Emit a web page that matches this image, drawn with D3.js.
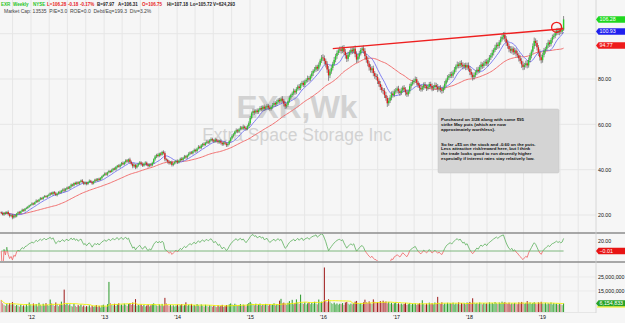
<!DOCTYPE html>
<html>
<head>
<meta charset="utf-8">
<script src="https://cdn.jsdelivr.net/npm/d3@7"></script>
<style>
  body { margin: 0; background: #f6f6f6; }
  svg { display: block; font-family: "Liberation Sans", Arial, sans-serif; }
</style>
</head>
<body>
<script>
// weekly bars, first one is the week of 5 Aug 2011
const firstWeek = new Date(2011, 7, 5);

const closes = [
  20.9,20.2,21.0,20.6,21.3,20.4,19.6,19.9,18.9,19.8,19.4,20.6,21.2,20.8,21.6,22.3,21.9,22.8,23.1,23.6,24.2,
  24.5,25.1,24.8,25.6,26.3,26.0,26.8,27.4,27.1,27.9,28.3,28.0,28.6,
  28.9,29.6,29.2,30.1,29.5,28.8,29.4,30.2,29.9,30.7,31.2,30.8,31.5,
  32.1,31.7,32.6,33.4,33.0,34.1,33.6,34.4,33.9,34.6,35.2,34.5,33.8,
  34.3,33.7,34.5,35.1,34.6,33.9,34.8,35.6,35.2,36.0,35.5,36.3,37.1,
  37.6,38.3,37.9,38.8,39.4,39.0,39.8,40.5,40.1,41.2,41.8,41.3,42.2,
  42.9,42.4,43.3,44.1,43.6,44.5,43.4,42.6,41.5,42.1,41.0,41.9,42.6,
  43.2,42.5,41.8,42.7,43.1,42.2,41.6,42.3,41.9,43.0,44.6,45.8,46.5,
  46.0,47.1,46.6,47.8,47.3,44.6,44.3,43.5,42.8,43.4,42.1,42.7,43.3,
  43.9,43.2,44.0,44.8,44.3,45.2,45.9,45.4,46.3,47.0,47.6,47.2,48.1,
  48.7,48.2,49.3,50.1,49.6,50.7,51.4,50.9,51.8,52.4,52.0,52.9,53.5,
  53.0,52.4,53.3,52.8,52.1,52.7,51.9,51.2,52.0,51.5,50.8,51.4,52.6,
  53.8,54.9,55.6,56.8,57.4,56.9,57.8,58.6,58.1,59.0,58.4,57.9,59.2,
  60.5,62.8,64.9,65.8,65.2,66.1,65.4,66.3,67.2,66.6,67.8,66.9,67.5,
  68.2,67.4,66.8,67.7,68.5,69.4,68.8,69.9,70.8,70.2,71.3,70.4,69.1,
  67.9,68.6,70.2,71.8,72.9,73.6,74.8,74.1,75.5,76.7,76.0,77.6,78.3,
  77.4,78.9,79.6,80.4,79.8,81.2,82.5,83.6,84.1,85.4,84.6,86.3,88.1,89.5,
  89.2,88.0,86.5,84.2,81.6,83.3,84.9,86.7,88.4,90.1,91.5,92.6,93.1,
  92.4,93.6,92.0,90.5,88.9,90.7,91.8,92.9,92.2,93.4,91.0,88.6,89.9,
  91.3,92.8,93.5,92.4,90.1,88.5,86.8,85.2,83.9,84.7,82.6,81.3,80.9,
  79.2,77.8,76.4,75.1,74.8,72.9,71.6,69.3,70.4,71.8,73.6,72.9,74.5,
  74.9,75.8,74.6,73.8,74.9,76.2,75.4,74.1,73.2,74.5,76.8,77.9,78.6,
  79.3,79.9,78.4,77.2,76.1,75.4,76.3,77.5,76.8,75.9,76.6,77.8,76.9,
  75.8,76.4,77.3,76.5,75.6,76.2,75.3,74.8,76.1,77.9,79.4,80.6,81.3,
  82.1,81.5,82.9,84.2,85.6,86.4,85.8,87.1,86.3,85.5,86.2,85.1,86.0,
  84.6,83.1,81.9,80.8,81.7,82.9,84.1,83.5,85.2,86.4,85.7,86.9,87.6,
  86.8,88.3,89.5,90.4,91.6,92.8,93.9,95.1,94.6,96.2,97.5,98.6,99.4,
  97.8,96.1,94.6,93.2,92.5,93.4,91.8,92.6,91.2,90.5,89.1,88.0,86.4,
  85.3,86.1,86.9,86.0,88.4,90.2,92.1,94.5,96.8,95.9,94.0,91.7,89.6,
  88.3,90.6,92.4,93.3,94.8,96.1,95.4,97.2,98.5,99.1,100.2,101.3,100.6,101.5,100.9,101.8,106.28
];
const firstOpen = 21.2;

const wickUp = [
  .4,.6,.3,.5,.4,.7,.5,.3,.6,.4,.5,.3,.4,.6,.3,.5,.4,.3,.5,.4,.3,
  .3,.5,.4,.3,.6,.4,.3,.5,.4,.3,.5,.4,.3,
  .5,.4,.6,.3,.5,.7,.4,.3,.6,.4,.5,.8,.4,
  .4,.6,.3,.5,.4,.3,.6,.4,.5,.3,.4,.6,.5,
  .5,.4,.3,.6,.4,.5,.3,.4,.6,.3,.5,.4,.3,
  .4,.5,.6,.3,.5,.4,.6,.3,.5,.4,.3,.6,.4,
  .5,.7,.4,.5,.6,.4,.8,.6,.5,.7,.4,.6,.5,
  .6,.5,.7,.4,.6,.5,.7,.4,.6,.5,.4,.6,.5,
  .7,.4,.6,.5,.7,.8,.6,.5,.7,.4,.6,.5,.4,
  .5,.6,.4,.5,.7,.4,.6,.5,.4,.7,.5,.6,.4,
  .6,.5,.4,.7,.5,.6,.4,.7,.5,.6,.4,.5,.7,
  .6,.5,.8,.4,.6,.5,.7,.6,.5,.8,.6,.5,.4,
  .5,.7,.6,.4,.8,.6,.5,.7,.6,.9,.5,.7,.6,
  .8,.9,.7,1.1,.8,.6,.9,.7,.8,1.0,.6,.9,.7,
  .8,.7,1.0,.6,.9,.7,.8,1.0,.7,.9,.6,1.1,.8,
  1.0,.8,.7,.9,.6,.8,1.0,.7,.9,.8,1.1,.7,.9,
  1.0,.8,.7,1.1,.9,.8,1.0,.7,1.2,.8,.9,1.0,.8,1.1,
  1.4,1.2,1.0,1.3,1.5,1.1,1.2,.9,1.3,1.0,1.1,.9,1.2,
  1.3,1.1,1.4,1.2,1.0,1.3,.9,1.2,1.1,.8,1.4,1.2,1.0,
  1.1,.9,1.0,1.3,1.2,1.0,1.4,1.1,1.3,1.0,1.2,.9,1.1,
  1.2,1.0,1.3,1.1,.9,1.2,1.4,1.0,1.3,1.1,.9,1.2,1.0,
  1.1,.9,1.2,1.0,1.3,.8,1.1,1.0,1.2,.9,1.1,.8,1.0,
  .9,1.2,1.0,.8,1.1,1.3,.9,1.0,1.2,.8,1.1,.9,1.0,
  1.1,.9,1.2,1.0,1.3,.8,1.1,.9,1.0,1.2,.8,1.1,.9,
  1.0,1.2,.9,1.1,.8,1.3,1.0,.9,1.2,1.1,.8,1.0,1.2,
  1.3,1.1,1.4,1.0,1.2,.9,1.1,1.3,1.0,1.2,.9,1.1,1.0,
  1.2,.9,1.1,1.0,1.3,.8,1.2,1.0,1.1,.9,1.2,1.0,1.3,
  1.4,1.1,1.2,1.0,1.3,1.1,.9,1.2,1.0,1.3,1.1,1.4,1.2,
  1.3,1.0,1.2,1.4,1.1,1.3,.9,1.2,1.5,1.1,1.3,1.0,1.4,
  1.2,1.0,1.3,.9,1.1,1.2,1.0,.8,1.1,.9,1.2,1.0,1.3,.9,1.1,1.0,1.5
];

const wickDown = [
  .5,.4,.6,.5,.3,.6,.7,.4,.8,.5,.6,.4,.3,.5,.4,.3,.5,.4,.3,.5,.4,
  .4,.3,.5,.4,.3,.5,.4,.3,.5,.4,.3,.4,.5,
  .4,.5,.3,.6,.5,.4,.6,.3,.5,.4,.6,.7,.5,
  .5,.3,.4,.6,.5,.4,.3,.5,.4,.6,.3,.5,.6,
  .4,.6,.5,.3,.5,.6,.4,.5,.3,.5,.4,.3,.5,
  .3,.4,.5,.6,.4,.5,.3,.6,.4,.5,.6,.4,.5,
  .6,.4,.5,.7,.5,.6,.8,.7,.9,.6,.8,.5,.6,
  .5,.7,.6,.5,.8,.6,.7,.5,.6,.4,.5,.6,.7,
  .6,.5,.7,.4,.6,.9,.7,.8,.6,.5,.7,.6,.5,
  .6,.7,.5,.6,.4,.7,.5,.6,.7,.5,.6,.4,.5,
  .5,.7,.6,.4,.6,.5,.7,.6,.4,.5,.7,.6,.5,
  .7,.6,.5,.8,.7,.6,.8,.7,.6,.5,.8,.7,.6,
  .6,.5,.7,.6,.5,.8,.6,.5,.7,.6,.8,.7,.5,
  .7,.8,.6,.9,1.0,.7,.9,.8,.6,.9,.8,1.0,.7,
  .9,1.0,.8,.7,.9,.8,1.0,.7,.8,1.1,.9,.8,1.2,
  1.1,.9,.8,.7,1.0,.8,.9,1.1,.8,.7,1.0,.9,.8,
  1.0,.9,.8,1.1,1.0,.8,.9,1.2,.8,1.0,1.1,.9,.8,1.0,
  1.3,1.6,1.4,1.5,2.4,1.2,1.0,1.1,.9,1.0,1.2,.9,1.1,
  1.2,1.0,1.3,1.5,1.4,1.1,.9,1.0,1.2,.9,1.4,1.5,1.1,
  1.0,.9,1.1,1.2,1.4,1.3,1.2,1.5,1.1,1.3,1.4,1.2,1.3,
  1.4,1.2,1.3,1.1,1.5,1.3,1.2,1.6,1.1,1.0,1.2,1.1,.9,
  1.0,1.2,1.1,1.3,.9,1.0,1.2,1.4,1.1,.9,1.0,1.1,.8,
  1.0,.9,1.2,1.1,1.3,1.0,.9,1.1,1.0,1.2,.9,1.0,1.1,
  1.2,1.0,.9,1.1,1.4,1.0,1.2,1.3,.9,1.0,1.1,.9,1.0,
  .9,1.1,1.0,.8,1.2,.9,1.1,1.0,1.2,1.3,1.0,1.2,1.1,
  1.2,1.4,1.3,1.5,1.1,1.0,1.2,1.1,.9,1.0,1.2,.9,1.1,
  1.0,1.2,.9,1.1,1.0,1.2,.9,1.1,1.3,1.0,1.1,.9,1.2,
  1.3,1.5,1.2,1.4,1.1,1.3,1.2,1.0,1.3,1.1,1.4,1.2,1.5,
  1.4,1.2,1.1,1.3,1.0,1.2,1.1,.9,1.2,1.3,1.4,1.6,1.5,
  1.4,1.1,1.0,1.2,.9,1.1,1.3,1.0,1.2,.9,1.1,1.0,1.2,1.3,1.1,1.0,.6
];

// weekly volume, millions of shares
const volumes = [
  8.6,6.2,5.1,4.4,5.8,4.9,6.4,5.2,7.1,5.5,4.3,5.0,4.6,3.8,5.3,4.1,4.7,3.9,5.6,4.2,6.8,
  5.4,4.6,6.1,4.8,5.7,4.0,6.6,5.1,4.4,5.9,4.7,6.3,5.0,
  4.5,8.9,6.2,5.1,4.3,6.8,5.6,4.1,5.3,7.4,4.9,16.0,5.2,
  6.1,4.8,5.5,4.2,3.9,5.7,4.4,3.6,4.9,4.1,5.3,3.8,4.6,
  3.5,4.2,3.9,4.8,3.3,4.5,3.7,4.1,5.0,3.6,4.4,3.2,4.7,
  5.2,4.1,3.8,5.6,21.5,6.4,5.1,4.7,5.9,4.3,5.5,6.2,4.8,
  5.3,4.6,6.0,5.2,4.4,5.7,6.3,5.0,6.8,4.9,9.2,4.5,5.1,
  4.7,5.4,4.2,5.0,3.9,4.6,5.3,4.0,4.8,5.6,6.2,5.1,4.7,
  4.3,5.5,4.6,5.8,4.2,10.1,6.3,5.0,4.4,5.2,4.1,4.8,3.9,
  4.6,5.3,4.0,4.9,5.6,4.3,5.1,6.9,4.5,5.2,4.7,5.8,4.4,
  5.0,4.2,5.7,4.8,4.1,5.4,4.6,3.9,5.2,4.5,3.8,4.9,4.3,
  3.7,4.6,4.0,3.5,4.8,3.9,4.4,5.1,3.6,4.2,5.0,4.5,5.5,
  6.1,5.4,4.8,5.9,5.2,4.6,5.0,5.7,4.3,5.3,4.9,4.1,5.6,
  6.4,7.2,6.1,5.5,4.8,5.9,4.7,5.4,6.0,4.6,5.2,4.9,5.8,
  5.1,4.5,5.6,4.9,5.3,6.2,4.7,5.5,5.0,8.1,9.4,6.3,6.7,
  5.9,5.2,6.6,7.8,6.1,8.7,5.5,6.4,9.0,6.8,5.7,12.4,6.3,
  5.8,6.9,5.4,6.2,7.0,5.6,6.5,5.9,7.3,6.1,5.5,8.9,6.6,7.4,
  7.1,31.8,8.2,6.9,9.1,7.5,6.3,5.8,6.7,5.4,6.1,5.2,5.9,
  5.6,6.4,5.1,6.8,7.2,5.9,5.3,6.0,5.5,6.2,7.4,7.9,6.1,
  5.7,6.3,5.4,6.9,8.8,7.1,6.5,7.6,6.2,5.8,9.0,7.3,6.7,
  7.0,6.4,7.8,6.6,8.1,6.9,7.5,6.2,7.2,5.9,6.6,5.5,6.3,
  6.8,5.7,6.2,5.4,6.0,5.3,5.8,6.5,5.1,5.6,6.4,5.2,5.9,
  5.5,6.1,5.0,5.7,6.3,5.4,8.4,5.8,5.2,6.0,5.3,6.7,5.6,
  6.2,5.5,6.8,5.9,10.8,6.4,5.7,6.9,5.3,6.1,5.6,6.6,5.8,
  6.3,5.9,6.7,5.4,6.1,5.6,6.9,5.3,6.4,5.8,6.2,5.5,6.8,
  6.5,7.2,6.0,9.8,6.6,5.9,6.3,5.7,6.8,6.1,5.5,6.4,5.8,
  6.2,5.6,6.9,6.0,6.5,5.8,7.1,6.3,5.7,6.8,6.1,7.4,6.6,
  7.0,6.4,5.9,6.7,5.5,6.2,5.8,6.5,6.0,5.6,6.9,6.3,7.2,
  6.6,5.9,6.3,7.8,6.1,6.8,5.7,6.4,7.0,6.2,5.6,6.9,6.5,
  7.3,6.1,5.8,6.6,5.5,6.2,5.9,6.8,5.4,6.3,5.7,6.0,5.2,5.8,5.5,4.9,6.15
];

// axis ticks and labels
const yearTicks = [2012, 2013, 2014, 2015, 2016, 2017, 2018, 2019];
const priceTicks = [20, 40, 60, 80];
const priceGrid = [20, 40, 60, 80, 100];
const oscTicks = [20];
const volTicks = [15, 25];

// last values shown in the right hand tags
const lastPrice = 106.28, fastMaLast = 100.93, slowMaLast = 94.77;
const oscLast = -0.01, volLast = 6154833;

// trend line and circle drawn on the chart
const trendLine = [[new Date(2016, 1, 19), 93.4], [new Date(2019, 3, 19), 102.2]];
const circleAt = [new Date(2019, 2, 15), 102.8];

const headerParts = [
  { x: 1, t: 'EXR', c: '#1fc41f' },
  { x: 13, t: 'Weekly', c: '#1fc41f' },
  { x: 33, t: 'NYSE', c: '#1fc41f' },
  { x: 47, t: 'L=106.28', c: '#e81c1c' },
  { x: 68, t: '-0.18', c: '#e81c1c' },
  { x: 80, t: '-0.17%', c: '#e81c1c' },
  { x: 97, t: 'B=97.97', c: '#222' },
  { x: 118, t: 'A=106.31', c: '#222' },
  { x: 142, t: 'O=106.75', c: '#e81c1c' },
  { x: 167, t: 'Hi=107.18', c: '#222' },
  { x: 190, t: 'Lo=105.72', c: '#222' },
  { x: 213, t: 'V=624,293', c: '#222' }
];
const subHeader = 'Market Cap: 13535  P/E=3.0  ROE=0.0  Debt/Eq=199.3  Div=3.2%';

const noteLines = [
  'Purchased on 3/28 along with some $95',
  'strike May puts (which are now',
  'approximately worthless).',
  '',
  '',
  'So far +$5 on the stock and -0.60 on the puts.',
  'Less attractive risk/reward here, but I think',
  'the trade looks good to run decently higher',
  'especially if interest rates stay relatively low.'
];

// build weekly bars
const weeks = closes.map((c, i) => {
  const o = i ? closes[i - 1] : firstOpen;
  return {
    date: d3.timeDay.offset(firstWeek, 7 * i),
    open: o,
    close: c,
    high: Math.max(o, c) + (wickUp[i] ?? 0.5),
    low: Math.min(o, c) - (wickDown[i] ?? 0.5),
    vol: volumes[i] ?? 5,
    prevVol: i ? volumes[i - 1] : volumes[0]
  };
});

function sma(vals, n) {
  return vals.map((v, i) => d3.mean(vals.slice(Math.max(0, i - n + 1), i + 1)));
}
function rsi(vals, n) {
  let ag = 0, al = 0;
  return vals.map((v, i) => {
    if (i === 0) return 0;
    const d = v - vals[i - 1];
    const k = i < n ? 1 / i : 1 / n;
    ag += (Math.max(d, 0) - ag) * k;
    al += (Math.max(-d, 0) - al) * k;
    return al === 0 ? 50 : 50 - 100 / (1 + ag / al);
  });
}
const fastMa = sma(closes, 10);
const slowMa = sma(closes, 40);
const volMa = sma(volumes, 20);
const osc = rsi(closes, 14);

const W = 625, H = 323;
const svg = d3.select('body').append('svg').attr('width', W).attr('height', H);
svg.append('rect').attr('width', W).attr('height', H).attr('fill', '#f6f6f6');

//scales
const x = d3.scaleTime()
  .domain([new Date(2012, 0, 1), new Date(2019, 0, 1)])
  .range([31, 542]);
const yPrice = d3.scaleLinear().domain([20, 80]).range([215, 79]);
const yOsc = d3.scaleLinear().domain([0, 20]).range([251, 241]);
const yVol = d3.scaleLinear().domain([0, 15]).range([312, 291]);

//grid
const quarters = d3.timeMonth.every(3).range(new Date(2011, 7, 1), new Date(2019, 9, 1));
svg.append('g').selectAll('line').data(quarters).join('line')
  .attr('x1', d => x(d)).attr('x2', d => x(d))
  .attr('y1', 0).attr('y2', 312)
  .attr('stroke', '#e6e6e6').attr('stroke-width', 1);
svg.append('g').selectAll('line').data(priceGrid).join('line')
  .attr('x1', 0).attr('x2', 596)
  .attr('y1', d => yPrice(d)).attr('y2', d => yPrice(d))
  .attr('stroke', '#e6e6e6');
svg.append('g').selectAll('line').data(volTicks).join('line')
  .attr('x1', 0).attr('x2', 596)
  .attr('y1', d => yVol(d)).attr('y2', d => yVol(d))
  .attr('stroke', '#ebebeb');

//header
const header = svg.append('g').attr('font-weight', 'bold').attr('font-size', 4.5);
header.selectAll('text').data(headerParts).join('text')
  .attr('x', d => d.x).attr('y', 6)
  .attr('fill', d => d.c)
  .text(d => d.t);
svg.append('text').attr('x', 4).attr('y', 12.5)
  .attr('font-size', 5).attr('fill', '#444')
  .attr('xml:space', 'preserve')
  .text(subHeader);

//watermark
svg.append('text').attr('x', 297).attr('y', 118)
  .attr('text-anchor', 'middle').attr('font-size', 31.5).attr('font-weight', 'bold')
  .attr('fill', '#d2d2d2').text('EXR,Wk');
svg.append('text').attr('x', 297).attr('y', 141)
  .attr('text-anchor', 'middle').attr('font-size', 17.5)
  .attr('fill', '#d2d2d2').text('Extra Space Storage Inc');

//moving averages
const maLine = vals => d3.line().x((d, i) => x(weeks[i].date)).y(d => yPrice(d))(vals);
const gPrice = svg.append('g');
gPrice.append('path').attr('d', maLine(slowMa))
  .attr('fill', 'none').attr('stroke', '#f27272').attr('stroke-width', 1);
gPrice.append('path').attr('d', maLine(fastMa))
  .attr('fill', 'none').attr('stroke', '#7373f0').attr('stroke-width', 0.9);

//candles
const candles = gPrice.append('g').selectAll('g').data(weeks).join('g');
candles.append('line')
  .attr('x1', d => x(d.date)).attr('x2', d => x(d.date))
  .attr('y1', d => yPrice(d.high)).attr('y2', d => yPrice(d.low))
  .attr('stroke', '#5e5e5e').attr('stroke-width', 0.7);
candles.append('rect')
  .attr('x', d => x(d.date) - 0.7)
  .attr('width', 1.4)
  .attr('y', d => yPrice(Math.max(d.open, d.close)))
  .attr('height', d => Math.max(0.8, Math.abs(yPrice(d.open) - yPrice(d.close))))
  .attr('fill', d => d.close >= d.open ? '#2ccc2c' : '#e01e1e');

//trend line and circle
gPrice.append('line')
  .attr('x1', x(trendLine[0][0])).attr('y1', yPrice(trendLine[0][1]))
  .attr('x2', x(trendLine[1][0])).attr('y2', yPrice(trendLine[1][1]))
  .attr('stroke', '#ee2020').attr('stroke-width', 1.4);
gPrice.append('circle')
  .attr('cx', x(circleAt[0])).attr('cy', yPrice(circleAt[1])).attr('r', 5)
  .attr('fill', 'none').attr('stroke', '#ee1a1a').attr('stroke-width', 1.3);

//note box
const note = svg.append('g');
note.append('rect').attr('x', 438).attr('y', 109).attr('width', 121).attr('height', 64)
  .attr('rx', 1.5).attr('fill', '#d4d4d4').attr('stroke', '#c4c4c4').attr('stroke-width', 0.5);
note.selectAll('text').data(noteLines).join('text')
  .attr('x', 441).attr('y', (d, i) => 121 + i * 4.9)
  .attr('font-size', 4.4).attr('font-weight', 'bold').attr('fill', '#111')
  .text(d => d);

//oscillator
svg.append('clipPath').attr('id', 'oscUp').append('rect')
  .attr('x', 0).attr('y', 234).attr('width', 596).attr('height', yOsc(0) - 234);
svg.append('clipPath').attr('id', 'oscDn').append('rect')
  .attr('x', 0).attr('y', yOsc(0)).attr('width', 596).attr('height', 261 - yOsc(0));
svg.append('line')
  .attr('x1', x(weeks[0].date)).attr('x2', x(weeks[weeks.length - 1].date))
  .attr('y1', yOsc(0)).attr('y2', yOsc(0))
  .attr('stroke', '#5fa85f').attr('stroke-width', 0.8);
const oscPath = d3.line().x((d, i) => x(weeks[i].date)).y(d => yOsc(d))(osc);
svg.append('path').attr('d', oscPath).attr('clip-path', 'url(#oscUp)')
  .attr('fill', 'none').attr('stroke', '#5cb05c').attr('stroke-width', 0.8);
svg.append('path').attr('d', oscPath).attr('clip-path', 'url(#oscDn)')
  .attr('fill', 'none').attr('stroke', '#f06262').attr('stroke-width', 0.8);

//volume
const volColor = d => {
  const up = d.close >= d.open;
  if (up) return d.vol > d.prevVol ? '#2b9a2b' : '#74c474';
  return d.vol > d.prevVol ? '#9e1a1a' : '#d47c7c';
};
svg.append('g').selectAll('rect').data(weeks).join('rect')
  .attr('x', d => x(d.date) - 0.5)
  .attr('width', 1)
  .attr('y', d => yVol(d.vol))
  .attr('height', d => yVol(0) - yVol(d.vol))
  .attr('fill', volColor);
svg.append('path')
  .attr('d', d3.line().x((d, i) => x(weeks[i].date)).y(d => yVol(d))(volMa))
  .attr('fill', 'none').attr('stroke', '#f2f200').attr('stroke-width', 0.9);

//panel borders
svg.append('line').attr('x1', 0).attr('x2', W).attr('y1', 233).attr('y2', 233)
  .attr('stroke', '#8c8c8c').attr('stroke-width', 1.5);
svg.append('line').attr('x1', 0).attr('x2', W).attr('y1', 262).attr('y2', 262)
  .attr('stroke', '#8c8c8c').attr('stroke-width', 1.5);
svg.append('line').attr('x1', 0).attr('x2', 596).attr('y1', 312.5).attr('y2', 312.5)
  .attr('stroke', '#dcdcdc').attr('stroke-width', 0.6);
svg.append('line').attr('x1', 596).attr('x2', 596).attr('y1', 0).attr('y2', 313)
  .attr('stroke', '#d0d0d0').attr('stroke-width', 0.8);

//axes
const styleAxis = g => {
  g.select('.domain').remove();
  g.selectAll('text').attr('font-size', 5.3).attr('fill', '#111')
    .attr('font-family', '"Liberation Sans", Arial, sans-serif');
};
svg.append('g').attr('transform', 'translate(596,0)')
  .call(d3.axisRight(yPrice).tickValues(priceTicks).tickFormat(d3.format('.2f')).tickSize(0).tickPadding(2))
  .call(styleAxis);
svg.append('g').attr('transform', 'translate(596,0)')
  .call(d3.axisRight(yOsc).tickValues(oscTicks).tickFormat(d3.format('.2f')).tickSize(0).tickPadding(2))
  .call(styleAxis);
svg.append('g').attr('transform', 'translate(596,0)')
  .call(d3.axisRight(yVol).tickValues(volTicks).tickFormat(d => d3.format(',')(d * 1e6)).tickSize(0).tickPadding(2))
  .call(styleAxis);
svg.append('g').attr('transform', 'translate(0,314)')
  .call(d3.axisBottom(x).tickValues(yearTicks.map(y => new Date(y, 0, 1)))
    .tickFormat(d3.timeFormat("'%y")).tickSize(0).tickPadding(1))
  .call(styleAxis);

//value tags
function tag(y, label, fill) {
  const h = 6.4;
  svg.append('path')
    .attr('d', `M596,${y} L598.5,${y - h / 2} L625,${y - h / 2} L625,${y + h / 2} L598.5,${y + h / 2} Z`)
    .attr('fill', fill);
  svg.append('text').attr('x', 599.5).attr('y', y).attr('dy', '0.36em')
    .attr('font-size', 5.3).attr('fill', '#fff').text(label);
}
tag(yPrice(lastPrice), d3.format('.2f')(lastPrice), '#1fd81f');
tag(yPrice(fastMaLast), d3.format('.2f')(fastMaLast), '#2020ee');
tag(yPrice(slowMaLast), d3.format('.2f')(slowMaLast), '#ee1c1c');
tag(yOsc(oscLast), d3.format('.2f')(oscLast), '#e81414');
tag(yVol(volLast / 1e6), d3.format(',')(volLast), '#27a327');
svg.append('line').attr('x1', 597).attr('x2', 625)
  .attr('y1', yVol(volLast / 1e6) + 3.6).attr('y2', yVol(volLast / 1e6) + 3.6)
  .attr('stroke', '#f0f000').attr('stroke-width', 1);
</script>
</body>
</html>
